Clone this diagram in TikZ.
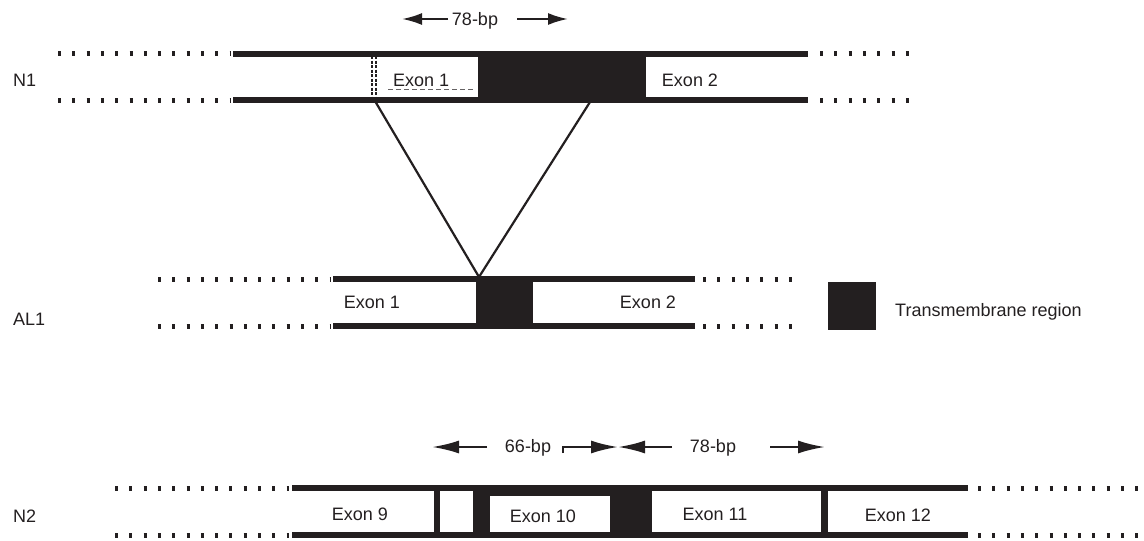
\documentclass[tikz,border=0pt]{standalone}
\usepackage{fontspec}
\setmainfont{Liberation Sans}
\usetikzlibrary{arrows.meta}
\definecolor{geneBlack}{RGB}{35,31,32}

\begin{document}
\begin{tikzpicture}[x=1pt, y=-1pt,
    lbl/.style={text=geneBlack, font=\fontsize{18}{20}\selectfont, inner sep=0pt, anchor=base},
    strand/.style={geneBlack, line width=6pt},
    dots/.style={geneBlack, line width=5pt, dash pattern=on 3pt off 11.3pt},
    tmfill/.style={fill=geneBlack},
    bparrow/.style={geneBlack, line width=2.2pt, -{Latex[length=20pt,width=12pt]}},
    bigarrow/.style={geneBlack, line width=2.2pt, -{Latex[length=27pt,width=13pt]}},
    link/.style={geneBlack, line width=2.2pt}]
    \useasboundingbox (0,0) rectangle (1144,541);

    % N1
    \node[lbl, anchor=base west] (n1) at (13,86) {N1};
    \draw[dots] (58,53.5) -- (231,53.5);
    \draw[dots] (58,100) -- (231,100);
    \draw[strand] (233,53.5) -- (808,53.5);
    \draw[strand] (233,100) -- (808,100);
    \draw[dots] (820,53.5) -- (910,53.5);
    \draw[dots] (820,100) -- (910,100);
    \fill[tmfill] (478,50.5) rectangle (646,103);
    \draw[geneBlack, line width=1.5pt, dash pattern=on 3pt off 1.5pt] (372,56) -- (372,97) (376,56) -- (376,97);
    \draw[geneBlack!70, line width=0.8pt, dash pattern=on 5pt off 3pt] (388,89) -- (475,89);
    \node[lbl, anchor=base west] (n1ex1) at (393,86) {Exon 1};
    \node[lbl] (n1ex2) at (690,86) {Exon 2};

    \node[lbl] (bp78top) at (475,25) {78-bp};
    \coordinate (bp78topL) at (448,19);
    \coordinate (bp78topLtip) at (402,19);
    \coordinate (bp78topR) at (517,19);
    \coordinate (bp78topRtip) at (568,19);
    \draw[bparrow] (bp78topL) -- (bp78topLtip);
    \draw[bparrow] (bp78topR) -- (bp78topRtip);

    % splice lines
    \coordinate (n1cutL) at (375,101);
    \coordinate (n1cutR) at (590,102);
    \coordinate (al1join) at (479,277);
    \draw[link] (n1cutL) -- (al1join) -- (n1cutR);

    % AL1
    \node[lbl, anchor=base west] (al1) at (13,325) {AL1};
    \draw[dots] (158,279) -- (331,279);
    \draw[dots] (158,326) -- (331,326);
    \draw[strand] (333,279) -- (695,279);
    \draw[strand] (333,326) -- (695,326);
    \draw[dots] (703,279) -- (796,279);
    \draw[dots] (703,326) -- (796,326);
    \fill[tmfill] (476,276) rectangle (533,329);
    \node[lbl] (al1ex1) at (372,308) {Exon 1};
    \node[lbl] (al1ex2) at (648,308) {Exon 2};

    % key
    \fill[tmfill] (828,282) rectangle (876,330);
    \node[lbl, anchor=base west] (tmkey) at (895,316) {Transmembrane region};

    % N2
    \node[lbl, anchor=base west] (n2) at (13,522) {N2};
    \draw[dots] (115,488) -- (289,488);
    \draw[dots] (115,535) -- (289,535);
    \draw[strand] (292,488) -- (968,488);
    \draw[strand] (292,535) -- (968,535);
    \draw[dots] (978,488) -- (1141,488);
    \draw[dots] (978,535) -- (1141,535);
    \fill[tmfill] (434,488) rectangle (440,535);
    \fill[tmfill] (473,488) rectangle (490,535);
    \fill[tmfill] (490,488) rectangle (610,496);
    \fill[tmfill] (610,488) rectangle (652,535);
    \fill[tmfill] (821,488) rectangle (828,535);
    \node[lbl] (n2ex9) at (360,520) {Exon 9};
    \node[lbl] (n2ex10) at (543,522) {Exon 10};
    \node[lbl] (n2ex11) at (715,520) {Exon 11};
    \node[lbl] (n2ex12) at (898,521) {Exon 12};

    \node[lbl] (bp66) at (528,452) {66-bp};
    \node[lbl] (bp78low) at (713,452) {78-bp};
    \coordinate (bp66L) at (487,447);
    \coordinate (bp66Ltip) at (432,447);
    \coordinate (bp66tick) at (563,453);
    \coordinate (bp66R) at (563,447);
    \coordinate (bp66Rtip) at (618,447);
    \coordinate (bp78lowL) at (672,447);
    \coordinate (bp78lowLtip) at (618,447);
    \coordinate (bp78lowR) at (770,447);
    \coordinate (bp78lowRtip) at (825,447);
    \draw[bigarrow] (bp66L) -- (bp66Ltip);
    \draw[bigarrow] (bp66tick) -- (bp66R) -- (bp66Rtip);
    \draw[bigarrow] (bp78lowL) -- (bp78lowLtip);
    \draw[bigarrow] (bp78lowR) -- (bp78lowRtip);
\end{tikzpicture}
\end{document}
